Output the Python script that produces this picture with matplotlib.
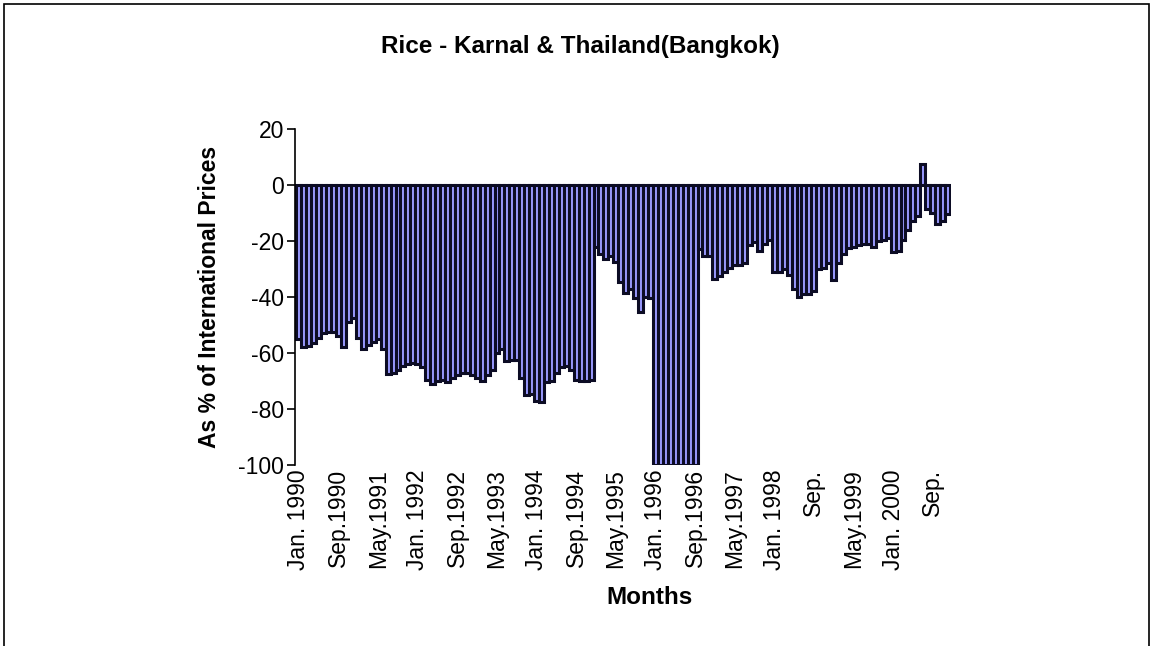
import matplotlib
matplotlib.use("Agg")
import matplotlib.pyplot as plt
from matplotlib.patches import Rectangle

plt.rcParams['font.family'] = ['Liberation Sans', 'DejaVu Sans']
plt.rcParams['axes.unicode_minus'] = False

# monthly values, % of international price (Karnal vs Bangkok)
y1990 = [-55, -58, -57.5, -56.5, -54.5, -53, -52.5, -52.5, -54, -58, -49, -47.5]
y1991 = [-54.5, -58.5, -57, -56, -55, -58.5, -67.5, -67, -66, -64.5, -64, -63.5]
y1992 = [-64, -65, -69.5, -71, -70, -69.5, -70.5, -69, -68, -67, -67, -68]
y1993 = [-69, -70, -68, -66, -60, -58.5, -63, -62.5, -62.5, -69, -75, -74.5]
y1994 = [-77, -77.5, -70.5, -70, -67, -65, -64.5, -66, -69.5, -70, -70, -69.5]
y1995 = [-22, -24.5, -26.5, -25.5, -27.5, -34.5, -38.5, -37, -40.5, -45.5, -40, -40.5]
y1996 = [-100, -100, -100, -100, -100, -100, -100, -100, -100, -23, -25.5, -25.5]
y1997 = [-33.5, -32.5, -31, -29.5, -28.5, -28.5, -28, -21.5, -20.5, -23.5, -21, -19.5]
y1998 = [-31, -31, -30, -32, -37, -40, -39, -39, -38, -30, -29.5, -28]
y1999 = [-34, -28, -24.5, -22.5, -22, -21.5, -21, -21, -22, -20, -19.5, -19]
y2000 = [-24, -23.5, -19.5, -16, -13, -11, 7.5, -8.5, -10, -14, -13, -10.5]

values = y1990 + y1991 + y1992 + y1993 + y1994 + y1995 + y1996 + y1997 + y1998 + y1999 + y2000

tick_labels = ['Jan. 1990', 'Sep.1990', 'May.1991', 'Jan. 1992', 'Sep.1992',
               'May.1993', 'Jan. 1994', 'Sep.1994', 'May.1995', 'Jan. 1996',
               'Sep.1996', 'May.1997', 'Jan. 1998', 'Sep.', 'May.1999',
               'Jan. 2000', 'Sep.']

fig = plt.figure(figsize=(11.54, 6.46), dpi=100)
ax = fig.add_axes([295 / 1154, 1 - 465 / 646, 656 / 1154, 336 / 646])

x = list(range(len(values)))
ax.bar(x, values, width=1.0, color='#9999ff', edgecolor='#0c0c24', linewidth=2.2)

ax.set_xlim(-0.8, 131.7)
ax.set_ylim(-100, 20)
ax.set_yticks(range(-100, 21, 20))
ax.set_xticks(range(0, len(values), 8))
ax.set_xticklabels(tick_labels, rotation=90, va='top', ha='center')

ax.tick_params(axis='x', length=0, pad=3, labelsize=16.5)
ax.tick_params(axis='y', length=6, width=1.2, pad=2, labelsize=16.5)
for s in ['top', 'right', 'bottom']:
    ax.spines[s].set_visible(False)
ax.spines['left'].set_linewidth(1.2)

fig.text(580 / 1154, 1 - 47 / 646, 'Rice - Karnal & Thailand(Bangkok)',
         ha='center', va='center', fontsize=17.5, fontweight='bold')
fig.text(210 / 1154, 1 - 297 / 646, 'As % of International Prices',
         ha='center', va='center', rotation=90, fontsize=16.5, fontweight='bold')
fig.text(650 / 1154, 1 - 598 / 646, 'Months',
         ha='center', va='center', fontsize=17.5, fontweight='bold')

# outer chart border
fig.patches.append(Rectangle((4 / 1154, -0.01), 1145 / 1154, 1.01 - 4 / 646,
                             transform=fig.transFigure, fill=False,
                             edgecolor='black', linewidth=1.2))

fig.savefig('out.png', dpi=100)
